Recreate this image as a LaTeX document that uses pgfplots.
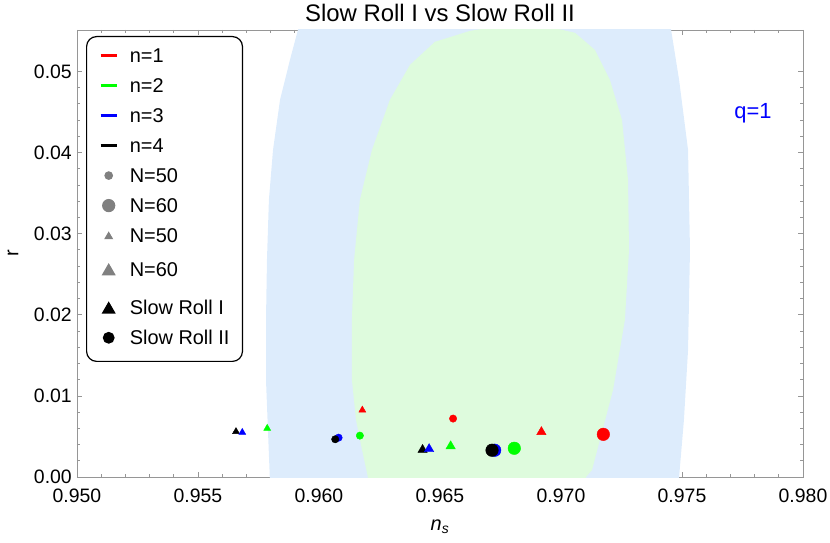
\documentclass[border=0pt]{standalone}
\usepackage{pgfplots}
\pgfplotsset{compat=1.18}
\usepackage{fontspec}
\setmainfont{Liberation Sans}
\definecolor{cblue}{RGB}{221,236,252}
\definecolor{cgreen}{RGB}{222,251,221}
\definecolor{fr}{RGB}{150,150,150}
\definecolor{legray}{RGB}{128,128,128}
\begin{document}
\begin{tikzpicture}
\begin{axis}[
  name=ax, at={(0,0)}, anchor=south west,
  scale only axis, width=726bp, height=447bp,
  xmin=0.95, xmax=0.98, ymin=0, ymax=0.0551,
  scaled x ticks=false, scaled y ticks=false,
  axis line style={fr, line width=0.8bp},
  xtick={0.95,0.955,0.96,0.965,0.97,0.975,0.98},
  xticklabels={0.950,0.955,0.960,0.965,0.970,0.975,0.980},
  ytick={0,0.01,0.02,0.03,0.04,0.05},
  yticklabels={0.00,0.01,0.02,0.03,0.04,0.05},
  minor x tick num=4, minor y tick num=4,
  tick align=inside, major tick length=5.5bp, minor tick length=3.2bp,
  every tick/.style={fr, line width=0.7bp},
  ticklabel style={font=\fontsize{19.5}{23}\selectfont},
  xticklabel style={anchor=base, yshift=-25bp},
  yticklabel style={anchor=east, inner sep=0pt, xshift=-5bp},
  xlabel={\textit{n}\textsubscript{\textit{s}}},
  xlabel style={at={(axis description cs:0.5,-0.1186)}, anchor=base, font=\fontsize{20}{24}\selectfont},
  ylabel={r},
  ylabel style={at={(axis description cs:-0.0882,0.5)}, anchor=center, font=\fontsize{20}{24}\selectfont},
  legend style={
    at={(axis description cs:0.0124,0.9866)}, anchor=north west,
    draw=black, line width=1.2bp, rounded corners=10bp, fill=white,
    inner xsep=13bp, inner ysep=11.85bp,
    row sep=15.7bp, column sep=12bp,
    font=\fontsize{20}{24}\selectfont,
    nodes={inner sep=0pt, text height=14.3bp, text depth=0pt},
  },
  legend cell align=left,
]
% confidence regions
\addplot[fill=cblue, draw=none, forget plot] coordinates {
  (0.95798,-0.001) (0.95789,0.0058) (0.95781,0.01196) (0.95781,0.01936)
  (0.95785,0.02676) (0.95793,0.03416) (0.95810,0.04032) (0.95839,0.04649)
  (0.95880,0.05142) (0.95913,0.05512) (0.9592,0.056) (0.9745,0.056)
  (0.97455,0.05512) (0.97488,0.04895) (0.97525,0.04032) (0.97533,0.02799)
  (0.97525,0.01566) (0.97508,0.00703) (0.97488,0) (0.9748,-0.001)
} -- cycle;
\addplot[fill=cgreen, draw=none, forget plot] coordinates {
  (0.96205,-0.001) (0.96202,0) (0.96178,0.00333) (0.96153,0.00703)
  (0.96136,0.01196) (0.96136,0.01936) (0.96145,0.02676) (0.96169,0.03416)
  (0.96219,0.04032) (0.96293,0.04649) (0.96376,0.05080) (0.96479,0.05364)
  (0.96624,0.05499) (0.96748,0.0556) (0.96934,0.0556) (0.97058,0.05475)
  (0.97140,0.05265) (0.97202,0.04895) (0.97252,0.04402) (0.97277,0.03662)
  (0.97281,0.02799) (0.97264,0.01936) (0.97215,0.01073) (0.97128,0.00086)
  (0.97103,0) (0.9710,-0.001)
} -- cycle;
% Slow Roll I (triangles), N=50 small, N=60 large
\addplot[only marks, mark=triangle*, mark size=4bp, red, forget plot] coordinates {(0.96179,0.00825)};
\addplot[only marks, mark=triangle*, mark size=5.4bp, red, forget plot] coordinates {(0.96919,0.00555)};
\addplot[only marks, mark=triangle*, mark size=4bp, green, forget plot] coordinates {(0.95786,0.0060)};
\addplot[only marks, mark=triangle*, mark size=5.4bp, green, forget plot] coordinates {(0.96544,0.0038)};
\addplot[only marks, mark=triangle*, mark size=4bp, black, forget plot] coordinates {(0.95657,0.0056)};
\addplot[only marks, mark=triangle*, mark size=5.4bp, black, forget plot] coordinates {(0.96428,0.00335)};
\addplot[only marks, mark=triangle*, mark size=4bp, blue, forget plot] coordinates {(0.95683,0.0055)};
\addplot[only marks, mark=triangle*, mark size=5.4bp, blue, forget plot] coordinates {(0.96455,0.00345)};
% Slow Roll II (circles)
\addplot[only marks, mark=*, mark size=3.7bp, red, forget plot] coordinates {(0.96554,0.0072)};
\addplot[only marks, mark=*, mark size=6.3bp, red, forget plot] coordinates {(0.97175,0.00526)};
\addplot[only marks, mark=*, mark size=3.7bp, green, forget plot] coordinates {(0.96169,0.0051)};
\addplot[only marks, mark=*, mark size=6.3bp, green, forget plot] coordinates {(0.96807,0.00354)};
\addplot[only marks, mark=*, mark size=3.7bp, blue, forget plot] coordinates {(0.96081,0.00485)};
\addplot[only marks, mark=*, mark size=6.3bp, blue, forget plot] coordinates {(0.96726,0.0033)};
\addplot[only marks, mark=*, mark size=3.7bp, black, forget plot] coordinates {(0.96067,0.00465)};
\addplot[only marks, mark=*, mark size=6.3bp, black, forget plot] coordinates {(0.96715,0.0033)};
% legend
\addlegendimage{legend image code/.code={\draw[red, line width=2.2bp, sharp corners] (0bp,0bp) -- (16bp,0bp);}}
\addlegendentry{n=1}
\addlegendimage{legend image code/.code={\draw[green, line width=2.2bp, sharp corners] (0bp,0bp) -- (16bp,0bp);}}
\addlegendentry{n=2}
\addlegendimage{legend image code/.code={\draw[blue, line width=2.2bp, sharp corners] (0bp,0bp) -- (16bp,0bp);}}
\addlegendentry{n=3}
\addlegendimage{legend image code/.code={\draw[black, line width=2.2bp, sharp corners] (0bp,0bp) -- (16bp,0bp);}}
\addlegendentry{n=4}
\addlegendimage{legend image code/.code={\fill[legray] (8bp,0bp) circle[radius=3.7bp];}}
\addlegendentry{N=50}
\addlegendimage{legend image code/.code={\fill[legray] (8bp,0bp) circle[radius=6bp];}}
\addlegendentry{N=60}
\addlegendimage{legend image code/.code={\fill[legray, sharp corners] (8bp,3bp) -- (4.5bp,-3bp) -- (11.5bp,-3bp) -- cycle;}}
\addlegendentry{N=50}
\addlegendimage{legend image code/.code={\fill[legray, sharp corners] (8bp,5.2bp) -- (2bp,-5.2bp) -- (14bp,-5.2bp) -- cycle; \path (8bp,10.45bp) (8bp,-14.85bp);}}
\addlegendentry{N=60}
\addlegendimage{legend image code/.code={\fill[black, sharp corners] (8bp,5.2bp) -- (2bp,-5.2bp) -- (14bp,-5.2bp) -- cycle;}}
\addlegendentry{Slow Roll I}
\addlegendimage{legend image code/.code={\fill[black] (8bp,0bp) circle[radius=5.3bp]; \path (8bp,-11.15bp);}}
\addlegendentry{Slow Roll II}
\node[text=blue, anchor=base, font=\fontsize{22}{26}\selectfont] at (rel axis cs:0.9311,0.802) {q=1};
\end{axis}
\node[anchor=base, inner sep=0pt, font=\fontsize{24}{28}\selectfont] at ([yshift=8bp]ax.north) {Slow Roll I vs Slow Roll II};
\pgfresetboundingbox
\path[use as bounding box] (-77bp,-66bp) rectangle (753bp,477bp);
\end{tikzpicture}
\end{document}
